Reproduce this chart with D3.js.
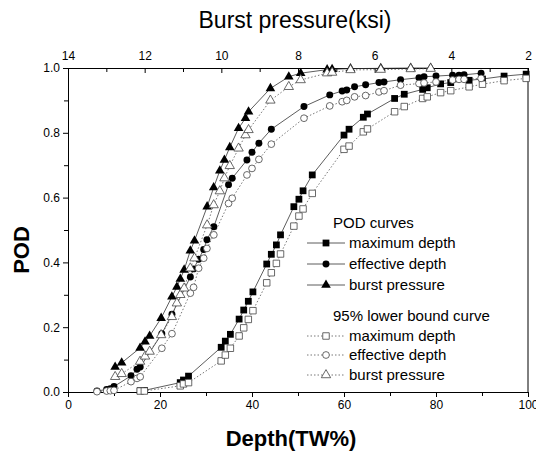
<!DOCTYPE html>
<html>
<head>
<meta charset="utf-8">
<script src="https://cdn.jsdelivr.net/npm/d3@7"></script>
<style>
  body { margin: 0; background: #fff; }
  svg { font-family: Arial, "Liberation Sans", sans-serif; }
</style>
</head>
<body>
<div id="chart-area"></div>
<script>
// maximum depth (TW%) and POD
const maxDepth = [15.7,16.6,24.4,25.1,26.2,33.3,34.2,35.3,37.2,38.2,39.2,40.2,43.2,44.2,45.3,46.2,49.1,50.2,51.1,53.1,60.0,61.1,64.2,65.1,71.0,73.1,77.1,78.1,81.0,83.2,87.2,90.1,94.8,99.6];
const maxPod   = [0.004,0.005,0.029,0.037,0.049,0.138,0.157,0.178,0.225,0.253,0.28,0.309,0.395,0.425,0.454,0.485,0.572,0.595,0.621,0.67,0.793,0.811,0.848,0.858,0.906,0.919,0.934,0.939,0.951,0.955,0.962,0.966,0.975,0.981];
const maxLow   = [0.003,0.003,0.019,0.025,0.029,0.096,0.114,0.135,0.173,0.198,0.224,0.251,0.337,0.368,0.397,0.426,0.512,0.543,0.565,0.613,0.749,0.759,0.803,0.812,0.865,0.881,0.906,0.911,0.924,0.93,0.942,0.95,0.961,0.968];

// effective depth (TW%) and POD
const effDepth = [6.3,8.4,9.2,10.0,13.7,15.0,15.7,20.4,22.6,26.6,27.3,28.4,29.5,30.2,31.7,34.9,35.7,38.9,40.0,41.5,44.2,51.3,56.9,59.6,60.6,62.3,64.7,67.6,68.7,72.3,76.3,77.4,80.0,83.6,85.0,86.1,89.8];
const effPod   = [0.003,0.008,0.01,0.017,0.05,0.07,0.077,0.18,0.24,0.355,0.38,0.41,0.44,0.47,0.51,0.64,0.66,0.716,0.74,0.768,0.811,0.881,0.917,0.929,0.932,0.942,0.948,0.955,0.957,0.964,0.97,0.973,0.975,0.978,0.978,0.979,0.984];
const effLow   = [0.001,0.003,0.004,0.005,0.032,0.042,0.047,0.135,0.18,0.305,0.323,0.382,0.413,0.443,0.485,0.582,0.598,0.67,0.69,0.718,0.765,0.845,0.883,0.896,0.9,0.911,0.915,0.926,0.93,0.947,0.952,0.954,0.957,0.963,0.965,0.965,0.968];

// burst pressure (ksi, top axis) and POD
const burstKsi = [12.77,12.60,12.12,11.99,11.87,11.57,11.29,11.16,11.07,10.97,10.81,10.70,10.37,10.20,10.04,9.92,9.78,9.55,9.37,9.29,8.72,8.24,7.93,7.24,7.11,6.63,5.84,5.06,4.54];
const burstPod = [0.077,0.09,0.136,0.155,0.173,0.228,0.294,0.324,0.349,0.377,0.436,0.467,0.572,0.631,0.683,0.716,0.755,0.814,0.845,0.865,0.937,0.973,0.984,0.995,0.996,0.998,0.999,1.0,1.0];
const burstLow = [0.047,0.056,0.094,0.11,0.125,0.176,0.232,0.274,0.30,0.32,0.382,0.413,0.515,0.577,0.62,0.66,0.698,0.752,0.793,0.809,0.90,0.942,0.963,0.984,0.986,0.994,0.995,0.997,0.998];

const depthTicks = [0,20,40,60,80,100];
const ksiTicks = [14,12,10,8,6,4,2];
const podTicks = [0,0.2,0.4,0.6,0.8,1.0];

const W = 536, H = 452;
const margin = {left:68, right:8, top:68, bottom:60};
const width = W - margin.left - margin.right,
      height = H - margin.top - margin.bottom;

const svg = d3.select("#chart-area").append("svg")
    .attr("width", W)
    .attr("height", H);
svg.append("rect").attr("width", W).attr("height", H).attr("fill", "#fff");

const g = svg.append("g")
    .attr("transform", "translate(" + margin.left + "," + margin.top + ")");

// scales
const x = d3.scaleLinear().domain([0,100]).range([0,width]);
const xTop = d3.scaleLinear().domain([14,2]).range([0,width]);
const y = d3.scaleLinear().domain([0,1]).range([height,0]);

// axes
function styleAxis(sel){
    sel.selectAll("path,line").attr("stroke", "#000").attr("stroke-width", 1);
    sel.selectAll("text").attr("font-size", "12px").attr("fill", "#000")
        .attr("font-family", "Arial, 'Liberation Sans', sans-serif");
}

g.append("g").attr("transform", "translate(0," + height + ")")
    .call(d3.axisBottom(x).tickValues(depthTicks).tickSizeInner(5).tickSizeOuter(0).tickPadding(3))
    .call(styleAxis);
g.append("g").attr("transform", "translate(0," + height + ")")
    .call(d3.axisBottom(x).tickValues([10,30,50,70,90]).tickFormat("").tickSize(4))
    .call(styleAxis);

g.append("g")
    .call(d3.axisTop(xTop).tickValues(ksiTicks).tickSizeInner(-5).tickSizeOuter(0).tickPadding(8))
    .call(styleAxis);
g.append("g")
    .call(d3.axisTop(xTop).tickValues([13,11,9,7,5,3]).tickFormat("").tickSize(-4))
    .call(styleAxis);

g.append("g")
    .call(d3.axisLeft(y).tickValues(podTicks).tickFormat(d3.format(".1f")).tickSizeInner(5).tickSizeOuter(0).tickPadding(3))
    .call(styleAxis);
g.append("g")
    .call(d3.axisLeft(y).tickValues([0.1,0.3,0.5,0.7,0.9]).tickFormat("").tickSize(4))
    .call(styleAxis);

// right frame line
g.append("line")
    .attr("x1", width).attr("x2", width)
    .attr("y1", 0).attr("y2", height)
    .attr("stroke", "#000");

// axis titles
svg.append("text")
    .attr("x", 295).attr("y", 28)
    .attr("text-anchor", "middle")
    .attr("font-size", "23px")
    .text("Burst pressure(ksi)");

svg.append("text")
    .attr("x", 291).attr("y", 446)
    .attr("text-anchor", "middle")
    .attr("font-size", "22px")
    .attr("font-weight", "bold")
    .text("Depth(TW%)");

svg.append("text")
    .attr("transform", "translate(29,250) rotate(-90)")
    .attr("text-anchor", "middle")
    .attr("font-size", "22px")
    .attr("font-weight", "bold")
    .text("POD");

// series
const series = [
    {xs: maxDepth, ys: maxPod, sx: x, shape: d3.symbolSquare, size: 46, filled: true},
    {xs: effDepth, ys: effPod, sx: x, shape: d3.symbolCircle, size: 38, filled: true},
    {xs: burstKsi, ys: burstPod, sx: xTop, shape: d3.symbolTriangle, size: 40, filled: true},
    {xs: maxDepth, ys: maxLow, sx: x, shape: d3.symbolSquare, size: 42, filled: false},
    {xs: effDepth, ys: effLow, sx: x, shape: d3.symbolCircle, size: 36, filled: false},
    {xs: burstKsi, ys: burstLow, sx: xTop, shape: d3.symbolTriangle, size: 38, filled: false}
];

const line = d3.line().x(d => d[0]).y(d => d[1]);

// lines first, markers on top
series.forEach(function(s){
    const pts = s.xs.map((v,i) => [s.sx(v), y(s.ys[i])]);
    g.append("path")
        .datum(pts)
        .attr("d", line)
        .attr("fill", "none")
        .attr("stroke", s.filled ? "#333" : "#555")
        .attr("stroke-width", 0.8)
        .attr("stroke-dasharray", s.filled ? null : "1.5,2");
});

series.forEach(function(s){
    const pts = s.xs.map((v,i) => [s.sx(v), y(s.ys[i])]);
    g.selectAll(null)
        .data(pts)
        .enter().append("path")
        .attr("transform", d => "translate(" + d[0] + "," + d[1] + ")")
        .attr("d", d3.symbol().type(s.shape).size(s.size))
        .attr("fill", s.filled ? "#000" : "#fff")
        .attr("stroke", s.filled ? "none" : "#444")
        .attr("stroke-width", 0.8);
});

// legend
const legend = svg.append("g");
legend.append("text").attr("x", 333).attr("y", 228).attr("font-size", "15px").text("POD curves");
legend.append("text").attr("x", 333).attr("y", 321).attr("font-size", "15px").text("95% lower bound curve");

const legendRows = [
    {s: series[0], label: "maximum depth", ly: 243},
    {s: series[1], label: "effective depth", ly: 264},
    {s: series[2], label: "burst pressure", ly: 285},
    {s: series[3], label: "maximum depth", ly: 336},
    {s: series[4], label: "effective depth", ly: 355},
    {s: series[5], label: "burst pressure", ly: 375}
];

legendRows.forEach(function(r){
    legend.append("line")
        .attr("x1", 307).attr("x2", 345)
        .attr("y1", r.ly).attr("y2", r.ly)
        .attr("stroke", r.s.filled ? "#333" : "#555")
        .attr("stroke-width", 0.8)
        .attr("stroke-dasharray", r.s.filled ? null : "1.5,2");
    legend.append("path")
        .attr("transform", "translate(326," + r.ly + ")")
        .attr("d", d3.symbol().type(r.s.shape).size(r.s.size))
        .attr("fill", r.s.filled ? "#000" : "#fff")
        .attr("stroke", r.s.filled ? "none" : "#444")
        .attr("stroke-width", 0.8);
    legend.append("text")
        .attr("x", 349).attr("y", r.ly + 5)
        .attr("font-size", "15px")
        .text(r.label);
});
</script>
</body>
</html>
